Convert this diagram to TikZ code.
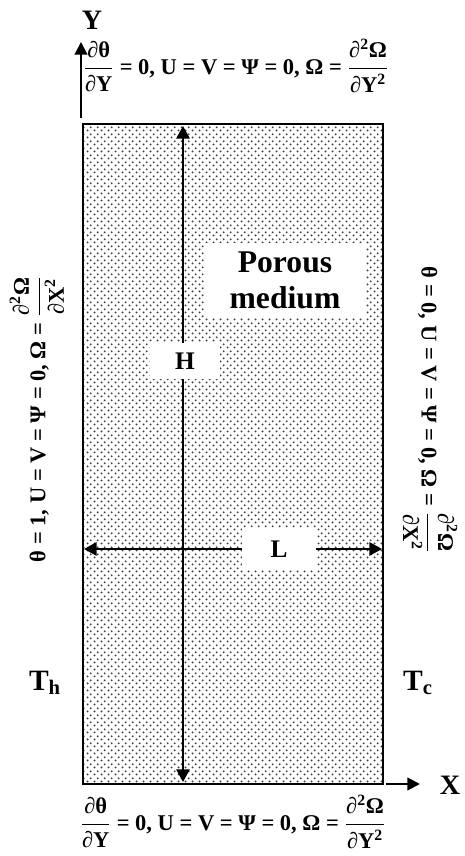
\documentclass[tikz,border=0pt]{standalone}
\usepackage{amsmath}
\usepackage{fontspec}
\setmainfont{Liberation Serif}
\usetikzlibrary{arrows.meta,patterns.meta}

\tikzdeclarepattern{
  name=porous, type=uncolored,
  bounding box={(0pt,0pt) and (4.7pt,4.7pt)},
  tile size={(4.7pt,4.7pt)},
  code={
    \fill (1.175pt,1.175pt) circle (0.8pt);
    \fill (3.525pt,3.525pt) circle (0.8pt);
  }
}

% bold partial-derivative fraction
\newcommand{\pdfrac}[2]{$\genfrac{}{}{1.1pt}{0}{\hbox{#1}}{\hbox{#2}}$}
\newcommand{\prt}{{\itshape ∂}}

\begin{document}
\begin{tikzpicture}[
    bcond/.style={font=\fontsize{16}{19}\selectfont\bfseries, inner sep=0pt},
    axlbl/.style={font=\fontsize{20}{24}\selectfont\bfseries, inner sep=0pt},
    dimlbl/.style={fill=white, font=\fontsize{18}{22}\selectfont\bfseries, inner sep=0pt},
    templbl/.style={font=\fontsize{21}{25}\selectfont\bfseries, inner sep=0pt},
    axarr/.style={-{Triangle[length=9pt,width=9pt]}, line width=1.4pt},
    dimarr/.style={{Triangle[length=9pt,width=9.5pt]}-{Triangle[length=9pt,width=9.5pt]}, line width=1.4pt}
  ]
  \useasboundingbox (0,0) rectangle (11.6,21.4);

  %% -- porous cavity --
  \coordinate (sw) at (2.075,1.8);
  \coordinate (ne) at (9.575,18.3);
  \fill[pattern=porous, pattern color=black!75] (sw) rectangle (ne);

  %% -- white label patches --
  \node[fill=white, minimum width=4.0cm, minimum height=1.875cm, inner sep=0pt,
        align=center, font=\fontsize{22.5}{26}\selectfont\bfseries]
    (medium) at (7.125,14.39) {Porous\\medium};

  %% -- dimension arrows --
  \coordinate (hbot) at (4.575,1.85);
  \coordinate (htop) at (4.575,18.25);
  \draw[dimarr] (hbot) -- (htop);
  \node[dimlbl, minimum width=1.75cm, minimum height=0.9cm] (hlbl) at (4.625,12.375) {H};

  \coordinate (lleft) at (2.1,7.675);
  \coordinate (lright) at (9.55,7.675);
  \draw[dimarr] (lleft) -- (lright);
  \node[dimlbl, minimum width=1.85cm, minimum height=1.05cm] (llbl) at (6.975,7.675) {L};

  \draw[line width=2pt] (sw) rectangle (ne);

  %% -- axes --
  \node[axlbl] (ylbl) at (2.3,20.9) {Y};
  \node[axlbl] (xlbl) at (11.25,1.775) {X};
  \coordinate (yfoot) at (2.025,18.45);
  \coordinate (xfoot) at (9.65,1.8);
  \draw[axarr] (yfoot) -- ++(0,1.9) coordinate (ytip);
  \draw[axarr] (xfoot) -- ++(0.85,0) coordinate (xtip);

  %% -- boundary conditions --
  \node[bcond] (bctop) at (5.9,19.75)
    {\pdfrac{\prt θ}{\prt Y} = 0, U = V = Ψ = 0, Ω = \pdfrac{\prt\textsuperscript{2}Ω}{\prt Y\textsuperscript{2}}};
  \node[bcond] (bcbot) at (5.825,0.85)
    {\pdfrac{\prt θ}{\prt Y} = 0, U = V = Ψ = 0, Ω = \pdfrac{\prt\textsuperscript{2}Ω}{\prt Y\textsuperscript{2}}};
  \node[bcond, rotate=90] (bcleft) at (0.925,10.925)
    {θ = 1, U = V = Ψ = 0, Ω = \pdfrac{\prt\textsuperscript{2}Ω}{\prt X\textsuperscript{2}}};
  \node[bcond, rotate=-90] (bcright) at (10.75,11.15)
    {θ = 0, U = V = Ψ = 0, Ω = \pdfrac{\prt\textsuperscript{2}Ω}{\prt X\textsuperscript{2}}};

  %% -- wall temperatures --
  \node[templbl] (thot) at (1.125,4.325) {T\textsubscript{h}};
  \node[templbl] (tcold) at (10.45,4.325) {T\textsubscript{c}};

\end{tikzpicture}
\end{document}
